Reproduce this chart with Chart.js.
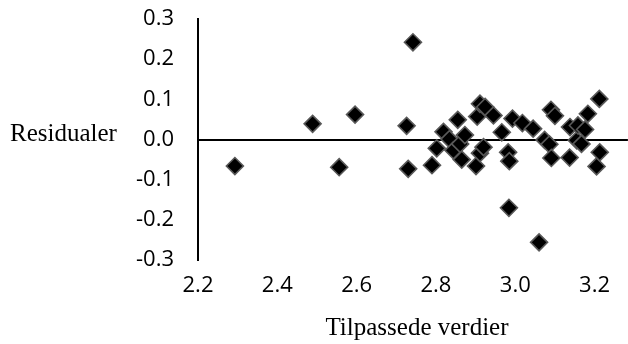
<!DOCTYPE html>
<html>
<head>
<meta charset="utf-8">
<script src="https://cdn.jsdelivr.net/npm/chart.js@4.4.1/dist/chart.umd.min.js"></script>
<style>
  html, body { margin: 0; padding: 0; background: #fff; overflow: hidden; }
  #wrap { width: 628px; height: 344px; position: relative; overflow: hidden; }
  #c { position: absolute; left: 0; top: 0; }
</style>
</head>
<body>
<div id="wrap"><canvas id="c" width="628" height="344"></canvas></div>
<script>
const fittedValues = [2.293, 2.489, 2.556, 2.596, 2.726, 2.730, 2.742, 2.790, 2.802, 2.819,
  2.834, 2.844, 2.855, 2.861, 2.865, 2.873, 2.901, 2.904, 2.911, 2.911,
  2.920, 2.924, 2.945, 2.966, 2.982, 2.984, 2.985, 2.993, 3.018, 3.045,
  3.060, 3.074, 3.086, 3.090, 3.091, 3.100, 3.137, 3.138, 3.155, 3.158,
  3.167, 3.176, 3.183, 3.205, 3.212, 3.213];
const residuals = [-0.066, 0.039, -0.069, 0.062, 0.034, -0.073, 0.242, -0.064, -0.022, 0.019,
  0.001, -0.027, 0.049, -0.011, -0.050, 0.011, -0.066, 0.057, 0.089, -0.034,
  -0.019, 0.081, 0.060, 0.018, -0.032, -0.170, -0.054, 0.052, 0.041, 0.027,
  -0.256, -0.001, -0.012, 0.074, -0.046, 0.059, -0.045, 0.031, -0.002, 0.035,
  -0.011, 0.025, 0.064, -0.067, 0.101, -0.032];
const xTickValues = [2.2, 2.4, 2.6, 2.8, 3.0, 3.2];
const yTickValues = [-0.3, -0.2, -0.1, 0.0, 0.1, 0.2, 0.3];
const xTitle = 'Tilpassede verdier';
const yTitle = 'Residualer';

const points = fittedValues.map((x, i) => ({ x: x, y: residuals[i] }));

const titlePlugin = {
  id: 'axisTitles',
  afterDraw(chart) {
    const ctx = chart.ctx;
    ctx.save();
    ctx.fillStyle = '#000';
    ctx.font = '25px "Liberation Serif", "Times New Roman", serif';
    ctx.textBaseline = 'alphabetic';
    ctx.textAlign = 'left';
    ctx.fillText(yTitle, 10, 141);
    ctx.textAlign = 'center';
    ctx.fillText(xTitle, 417, 335);
    ctx.restore();
  }
};

const tickFont = { family: 'Open Sans', size: 22 };

function buildChart(canvasWidth) {
  const canvas = document.getElementById('c');
  canvas.width = canvasWidth;
  canvas.height = 344;
  canvas.style.width = canvasWidth + 'px';
  canvas.style.height = '344px';
  return new Chart(canvas, {
    type: 'scatter',
    data: {
      datasets: [{
        data: points,
        pointStyle: 'rectRot',
        pointRadius: 8.5,
        pointHoverRadius: 8.5,
        backgroundColor: '#000',
        borderColor: '#595959',
        borderWidth: 1.6
      }]
    },
    options: {
      responsive: false,
      animation: false,
      events: [],
      layout: { padding: { top: 19, right: 0, bottom: 0, left: 0 } },
      plugins: { legend: { display: false }, tooltip: { enabled: false } },
      scales: {
        x: {
          type: 'linear',
          position: 'bottom',
          min: 2.2,
          max: 3.284,
          afterBuildTicks: (s) => { s.ticks = xTickValues.map(v => ({ value: v })); },
          afterFit: (s) => { s.height = 84; s.paddingLeft = 0; s.paddingRight = 0; },
          border: { display: false },
          grid: { display: false, drawTicks: false },
          ticks: {
            padding: 13,
            maxRotation: 0,
            font: tickFont,
            color: '#000',
            callback: (v) => Number(v).toFixed(1)
          }
        },
        y: {
          type: 'linear',
          min: -0.3,
          max: 0.3,
          afterBuildTicks: (s) => { s.ticks = yTickValues.map(v => ({ value: v })); },
          afterFit: (s) => { s.width = 198; s.paddingTop = 0; s.paddingBottom = 0; },
          border: { display: true, color: '#000', width: 2 },
          grid: {
            display: true,
            drawTicks: false,
            lineWidth: 2,
            color: (c) => (c.tick && Math.abs(c.tick.value) < 1e-9) ? '#000' : 'rgba(0,0,0,0)'
          },
          ticks: {
            padding: 24,
            font: tickFont,
            color: '#000',
            callback: (v) => Number(v).toFixed(1)
          }
        }
      }
    },
    plugins: [titlePlugin]
  });
}

let chart = buildChart(628);
const gap = 628 - chart.chartArea.right;
if (gap > 0.5) {
  chart.destroy();
  chart = buildChart(Math.round(628 + gap));
}
</script>
</body>
</html>
